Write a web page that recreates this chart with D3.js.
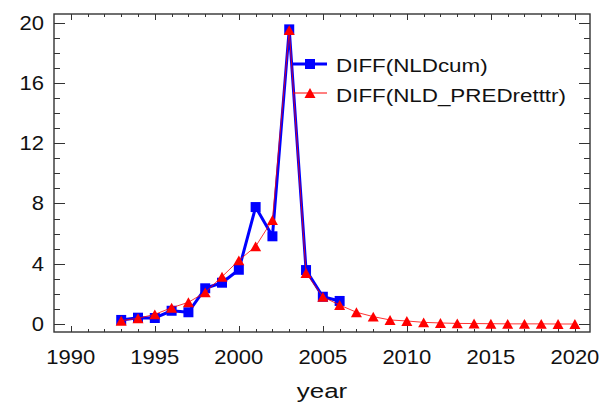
<!DOCTYPE html>
<html>
<head>
<meta charset="utf-8">
<script src="https://cdn.jsdelivr.net/npm/d3@7"></script>
<style>
  html, body { margin: 0; padding: 0; background: #fff; }
  svg { display: block; }
  text { font-family: "Liberation Sans", Arial, sans-serif; fill: #111; }
</style>
</head>
<body>
<svg id="chart" width="600" height="405"></svg>
<script>
// Yearly differences: observed cumulative series and the predicted series
const yearsCum = [1993, 1994, 1995, 1996, 1997, 1998, 1999, 2000, 2001, 2002, 2003, 2004, 2005, 2006];
const nldCum = [0.27, 0.42, 0.40, 0.88, 0.78, 2.37, 2.74, 3.60, 7.76, 5.82, 19.55, 3.58, 1.81, 1.53];

const yearsPred = [1993, 1994, 1995, 1996, 1997, 1998, 1999, 2000, 2001, 2002, 2003, 2004, 2005, 2006,
                   2007, 2008, 2009, 2010, 2011, 2012, 2013, 2014, 2015, 2016, 2017, 2018, 2019, 2020];
const nldPred = [0.22, 0.38, 0.64, 1.08, 1.44, 2.10, 3.14, 4.22, 5.15, 6.90, 19.50, 3.38, 1.80, 1.26,
                 0.78, 0.49, 0.27, 0.20, 0.11, 0.07, 0.04, 0.03, 0.02, 0.01, 0.01, 0.01, 0.00, 0.00];

const seriesNames = ["DIFF(NLDcum)", "DIFF(NLD_PREDretttr)"];
const xTickLabels = [1990, 1995, 2000, 2005, 2010, 2015, 2020];
const yTickLabels = [0, 4, 8, 12, 16, 20];
const xLabel = "year";

const svg = d3.select("#chart");
const plotL = 54, plotR = 590, plotT = 14, plotB = 332;

const x = d3.scaleLinear().domain([1989, 2020.9]).range([plotL, plotR]);
const y = d3.scaleLinear().domain([-0.53, 20.57]).range([plotB, plotT]);

const axisColor = "#333";

// Plot frame
svg.append("rect")
  .attr("x", plotL).attr("y", plotT)
  .attr("width", plotR - plotL).attr("height", plotB - plotT)
  .attr("fill", "none").attr("stroke", axisColor).attr("stroke-width", 1.4);

// Inward ticks on all four sides
const xMinor = d3.range(1990, 2021);
const yMinor = d3.range(0, 21);

function ticks(sel, vals, isMajor, pos) {
  sel.selectAll(null).data(vals).enter().append("line")
    .attr("stroke", axisColor).attr("stroke-width", 1)
    .each(function (v) {
      const l = d3.select(this);
      const maj = isMajor(v);
      if (pos === "bottom" || pos === "top") {
        const len = maj ? 6 : 3;
        const px = Math.round(x(v)) + 0.5;
        const y0 = pos === "bottom" ? plotB : plotT;
        const dir = pos === "bottom" ? -1 : 1;
        l.attr("x1", px).attr("x2", px).attr("y1", y0).attr("y2", y0 + dir * len);
      } else {
        const len = maj ? 11 : 6;
        const py = Math.round(y(v)) + 0.5;
        const x0 = pos === "left" ? plotL : plotR;
        const dir = pos === "left" ? 1 : -1;
        l.attr("y1", py).attr("y2", py).attr("x1", x0).attr("x2", x0 + dir * len);
      }
    });
}
const g = svg.append("g");
ticks(g, xMinor, v => v % 5 === 0, "bottom");
ticks(g, xMinor, v => v % 5 === 0, "top");
ticks(g, yMinor, v => v % 4 === 0, "left");
ticks(g, yMinor, v => v % 4 === 0, "right");

// Tick labels
svg.append("g").selectAll("text").data(yTickLabels).enter().append("text")
  .attr("transform", d => `translate(44,${y(d) + 7}) scale(1.1,1)`)
  .attr("text-anchor", "end")
  .attr("font-size", 20)
  .text(d => d);

svg.append("g").selectAll("text").data(xTickLabels).enter().append("text")
  .attr("transform", d => `translate(${x(d)},364) scale(1.1,1)`)
  .attr("text-anchor", "middle")
  .attr("font-size", 20)
  .text(d => d);

svg.append("text")
  .attr("transform", `translate(${(plotL + plotR) / 2},398) scale(1.33,1)`)
  .attr("text-anchor", "middle")
  .attr("font-size", 19.5)
  .text(xLabel);

// Bbox-centred upward triangle
const triangleUp = {
  draw(ctx, size) {
    const w = Math.sqrt(size) * 1.05, h = w * 0.9;
    ctx.moveTo(0, -h / 2);
    ctx.lineTo(w / 2, h / 2);
    ctx.lineTo(-w / 2, h / 2);
    ctx.closePath();
  }
};

const blue = "#0000ff", red = "#ff0000";
const cumData = yearsCum.map((yr, i) => [yr, nldCum[i]]);
const predData = yearsPred.map((yr, i) => [yr, nldPred[i]]);
const line = d3.line().x(d => x(d[0])).y(d => y(d[1]));

// Observed series: thick blue line with squares
svg.append("path").datum(cumData)
  .attr("d", line).attr("fill", "none")
  .attr("stroke", blue).attr("stroke-width", 3).attr("stroke-linejoin", "round");
svg.append("g").selectAll("path").data(cumData).enter().append("path")
  .attr("transform", d => `translate(${x(d[0])},${y(d[1])})`)
  .attr("d", d3.symbol().type(d3.symbolSquare).size(100))
  .attr("fill", blue);

// Predicted series: thin red line with triangles
svg.append("path").datum(predData)
  .attr("d", line).attr("fill", "none")
  .attr("stroke", red).attr("stroke-width", 1).attr("stroke-opacity", 0.8);
svg.append("g").selectAll("path").data(predData).enter().append("path")
  .attr("transform", d => `translate(${x(d[0])},${y(d[1])})`)
  .attr("d", d3.symbol().type(triangleUp).size(110))
  .attr("fill", red);

// Legend
const legend = svg.append("g");
const rows = [
  { name: seriesNames[0], color: blue, width: 3, sym: d3.symbolSquare, size: 100, ly: 64, ty: 71.5 },
  { name: seriesNames[1], color: red, width: 1, sym: triangleUp, size: 110, ly: 93, ty: 101.5 }
];
rows.forEach(r => {
  legend.append("line")
    .attr("x1", 293).attr("x2", 327).attr("y1", r.ly).attr("y2", r.ly)
    .attr("stroke", r.color).attr("stroke-width", r.width);
  legend.append("path")
    .attr("transform", `translate(310,${r.ly})`)
    .attr("d", d3.symbol().type(r.sym).size(r.size))
    .attr("fill", r.color);
  legend.append("text")
    .attr("transform", `translate(336,${r.ty}) scale(1.28,1)`)
    .attr("font-size", 17.5)
    .text(r.name);
});
</script>
</body>
</html>
